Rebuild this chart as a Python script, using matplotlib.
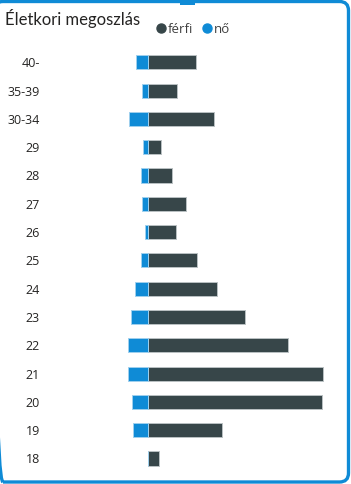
import matplotlib
matplotlib.use("Agg")
import matplotlib.pyplot as plt
from matplotlib.patches import FancyBboxPatch, Rectangle
from matplotlib.lines import Line2D
from matplotlib.transforms import IdentityTransform

plt.rcParams['font.family'] = ['Open Sans', 'DejaVu Sans']

categories = ["40-", "35-39", "30-34", "29", "28", "27", "26", "25", "24", "23", "22", "21", "20", "19", "18"]
no_values = [11.7, 5.7, 18.7, 4.7, 6.7, 5.7, 3.0, 6.7, 12.7, 16.7, 19.7, 19.7, 15.7, 14.7, 0.0]
ferfi_values = [48.6, 29.0, 66.3, 13.0, 24.0, 38.0, 28.0, 49.3, 69.0, 97.0, 140.3, 175.6, 174.6, 74.0, 11.0]
title = "Életkori megoszlás"
series_names = ["férfi", "nő"]

DARK = "#374649"
BLUE = "#0F8BD6"

W, H = 351, 484
fig = plt.figure(figsize=(W / 100, H / 100), dpi=100)
fig.patch.set_facecolor("white")

# card border
card = FancyBboxPatch((-6, 2), 354.5, 480.5, boxstyle="round,pad=0,rounding_size=9",
                      transform=IdentityTransform(), facecolor="none",
                      edgecolor=BLUE, linewidth=2.4, zorder=5)
fig.patches.append(card)
fig.patches.append(Rectangle((180, 479), 15, 5, transform=IdentityTransform(),
                             facecolor=BLUE, edgecolor="none", zorder=5))

ax = fig.add_axes([45 / W, 1 - 472.65 / H, (340 - 45) / W, (472.65 - 48.15) / H])
ax.set_facecolor("none")
y = list(range(len(categories)))
ax.barh(y, ferfi_values, height=0.5, color=DARK, edgecolor="#b9c0c2", linewidth=0.7)
ax.barh(y, [-v for v in no_values], height=0.5, color=BLUE, edgecolor="#9fd0ee", linewidth=0.7)
ax.set_xlim(-102.7, 192.3)
ax.set_ylim(len(categories) - 0.5, -0.5)
ax.set_yticks(y)
ax.set_yticklabels(categories, fontsize=9, color="#252423")
ax.tick_params(axis="y", length=0, pad=3.6)
ax.set_xticks([])
for s in ax.spines.values():
    s.set_visible(False)

fig.text(5 / W, 1 - 25 / H, title, fontsize=12, color="#252423", ha="left", va="baseline",
         family=["Lato", "DejaVu Sans"])

handles = [Line2D([], [], marker="o", linestyle="none", markersize=6.5, color=DARK),
           Line2D([], [], marker="o", linestyle="none", markersize=6.5, color=BLUE)]
fig.legend(handles, series_names, loc="center left", bbox_to_anchor=(156 / W, 1 - 29.5 / H),
           ncol=2, frameon=False, fontsize=9.5, handlelength=0.7, handletextpad=0.2,
           columnspacing=0.7, borderpad=0, borderaxespad=0, labelcolor="#404040")

fig.savefig("out.png", dpi=100, facecolor="white")
